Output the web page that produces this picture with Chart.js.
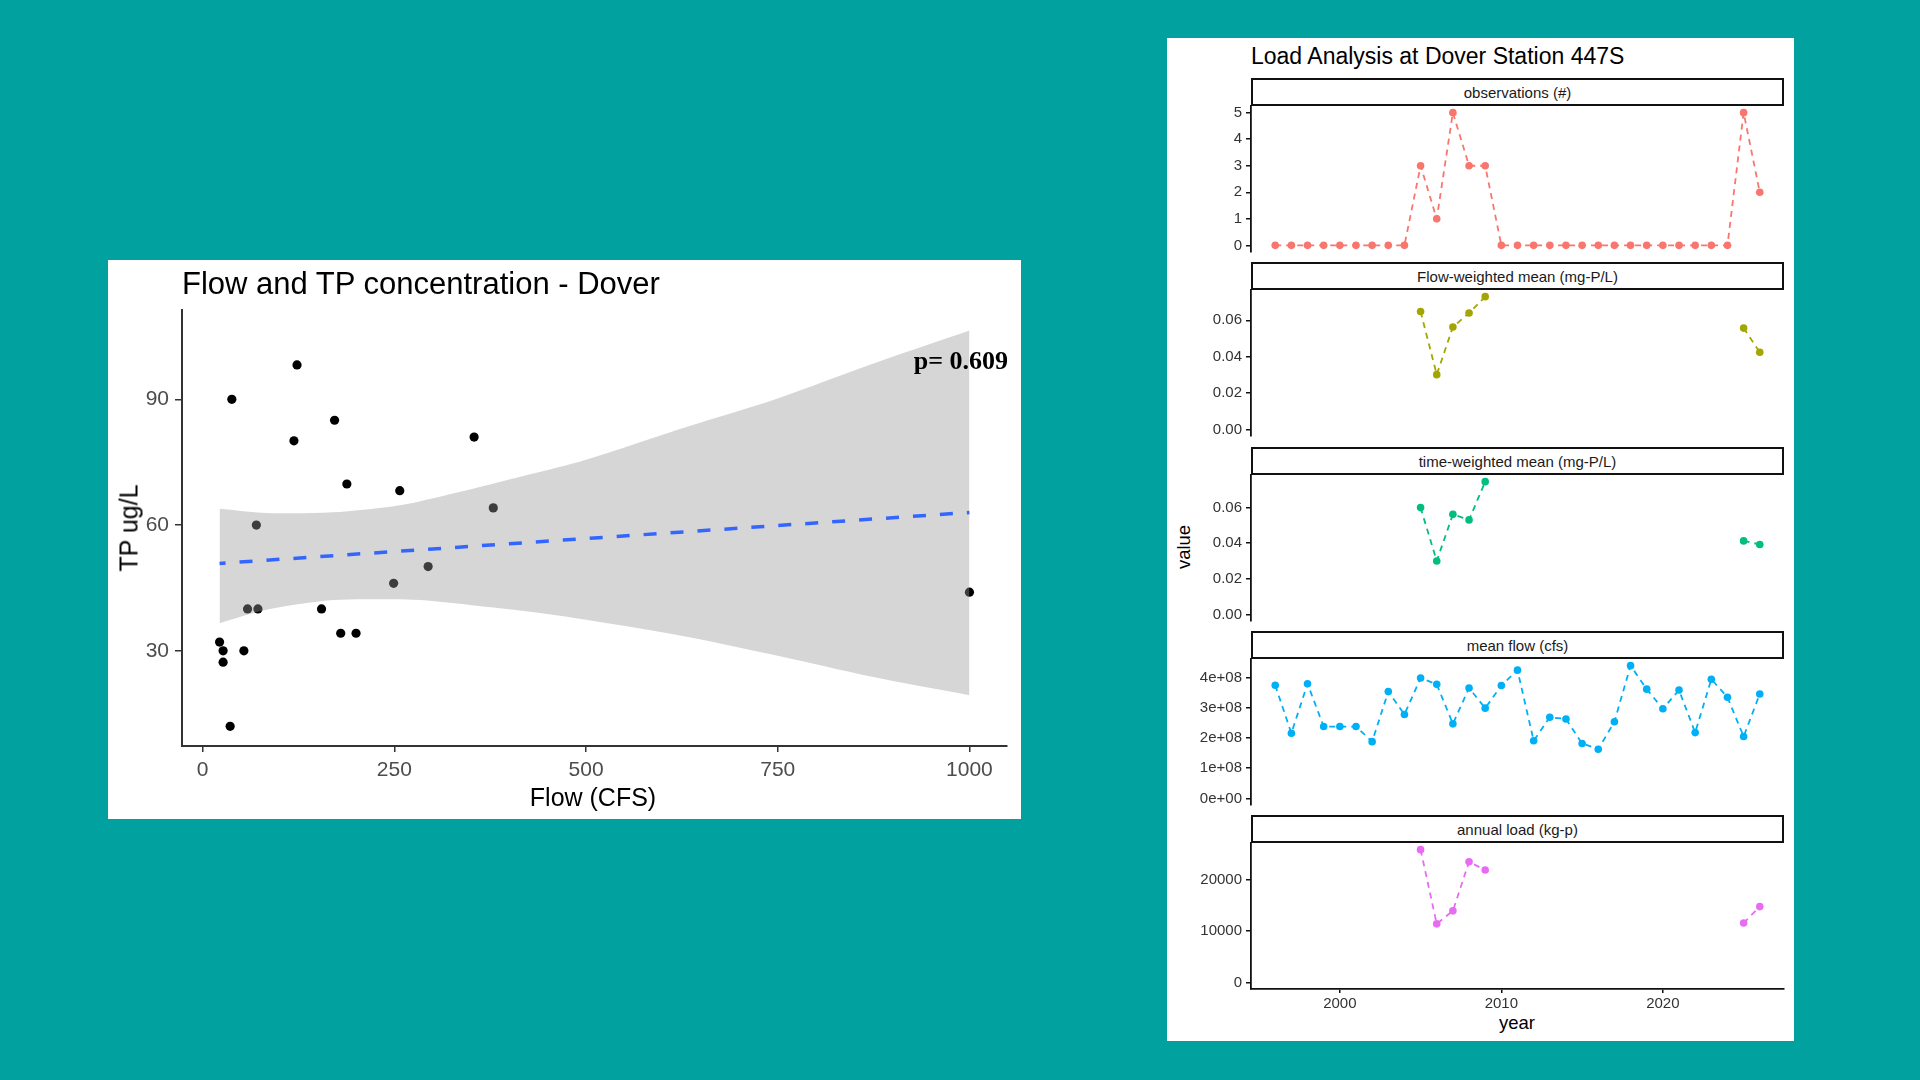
<!DOCTYPE html>
<html><head><meta charset="utf-8">
<script src="https://cdn.jsdelivr.net/npm/chart.js@4.4.1/dist/chart.umd.min.js"></script>
<style>
html,body{margin:0;padding:0;width:1920px;height:1080px;overflow:hidden;background:#00A19E;font-family:"Liberation Sans",Arial,sans-serif;}
.abs{position:absolute;white-space:nowrap;line-height:1;}
.white{position:absolute;background:#fff;}
.strip{position:absolute;box-sizing:border-box;border:2px solid #111;background:#fff;color:#1a1a1a;font-size:15px;display:flex;align-items:center;justify-content:center;}
canvas{position:absolute;}
</style></head><body>
<div class="white" style="left:108px;top:260px;width:913px;height:559px;"></div>
<div class="white" style="left:1167px;top:38px;width:627px;height:1003px;"></div>
<canvas id="left" width="913" height="559" style="left:108px;top:260px;"></canvas>
<div class="abs" style="left:182px;top:268px;font-size:31px;color:#000;">Flow and TP concentration - Dover</div>
<div class="abs" style="right:912px;top:348px;font-size:26px;font-weight:bold;font-family:'Liberation Serif','Times New Roman',serif;color:#000;">p= 0.609</div>
<div class="abs" style="left:129px;top:528px;font-size:25px;color:#000;transform:translate(-50%,-50%) rotate(-90deg);">TP ug/L</div>
<div class="abs" style="left:593px;top:785px;font-size:25px;color:#000;transform:translateX(-50%);">Flow (CFS)</div>
<div class="abs" style="left:1251px;top:45px;font-size:23px;color:#000;">Load Analysis at Dover Station 447S</div>
<div class="abs" style="left:1517px;top:1014px;font-size:18.5px;color:#000;transform:translateX(-50%);">year</div>
<div class="abs" style="left:1184px;top:547px;font-size:18.5px;color:#000;transform:translate(-50%,-50%) rotate(-90deg);">value</div>
<div id="right"></div>
<script>
// ---------- Left chart data ----------
const flowCFS = [38, 123, 119, 172, 354, 188, 257, 379, 70, 294, 249, 58.5, 72, 155, 180, 200, 22, 26.6, 53.7, 26.6, 35.8, 1000];
const tpUgL   = [90, 98.2, 80.1, 85, 81, 69.8, 68.2, 64.1, 60, 50.1, 46.1, 40, 40, 40, 34.2, 34.2, 32.1, 30, 30, 27.3, 12, 44];
const fitX = [22, 1000];
const fitY = [50.85, 63.0];
const bandX  = [22, 83, 170, 249, 284, 360, 427, 500, 633, 750, 873, 1000];
const bandLo = [36.6, 39.8, 42.1, 42.3, 42.1, 40.7, 39.3, 37.4, 33.3, 28.8, 23.8, 19.4];
const bandHi = [63.9, 62.9, 63.05, 64.5, 65.7, 69.0, 72.1, 75.6, 83.5, 90.2, 98.4, 106.4];
const flowTicks = [0, 250, 500, 750, 1000];
const flowTickLabels = ['0', '250', '500', '750', '1000'];
const tpTicks = [30, 60, 90];
const tpTickLabels = ['30', '60', '90'];

// ---------- Right facets data ----------
const years = [1996,1997,1998,1999,2000,2001,2002,2003,2004,2005,2006,2007,2008,2009,2010,2011,2012,2013,2014,2015,2016,2017,2018,2019,2020,2021,2022,2023,2024,2025,2026];
const observations = [0,0,0,0,0,0,0,0,0,3,1,5,3,3,0,0,0,0,0,0,0,0,0,0,0,0,0,0,0,5,2];
const flowWeighted = [null,null,null,null,null,null,null,null,null,0.0648,0.0301,0.0563,0.0640,0.0730,null,null,null,null,null,null,null,null,null,null,null,null,null,null,null,0.0557,0.0424];
const timeWeighted = [null,null,null,null,null,null,null,null,null,0.0600,0.0300,0.0562,0.0531,0.0746,null,null,null,null,null,null,null,null,null,null,null,null,null,null,null,0.0413,0.0393];
const meanFlow = [3.75e8,2.16e8,3.80e8,2.38e8,2.38e8,2.38e8,1.88e8,3.54e8,2.78e8,3.99e8,3.78e8,2.47e8,3.66e8,2.99e8,3.74e8,4.25e8,1.91e8,2.69e8,2.63e8,1.82e8,1.63e8,2.54e8,4.40e8,3.62e8,2.97e8,3.59e8,2.18e8,3.95e8,3.35e8,2.05e8,3.46e8];
const annualLoad = [null,null,null,null,null,null,null,null,null,25800,11370,13900,23440,21830,null,null,null,null,null,null,null,null,null,null,null,null,null,null,null,11530,14730];
const facetNames = ['observations (#)', 'Flow-weighted mean (mg-P/L)', 'time-weighted mean (mg-P/L)', 'mean flow (cfs)', 'annual load (kg-p)'];
const yearTicks = [2000, 2010, 2020];
const yearTickLabels = ['2000', '2010', '2020'];
const obsTicks = [0,1,2,3,4,5];
const obsTickLabels = ['0','1','2','3','4','5'];
const meanTicks = [0, 0.02, 0.04, 0.06];
const meanTickLabels = ['0.00','0.02','0.04','0.06'];
const flowAxisTicks = [0, 1e8, 2e8, 3e8, 4e8];
const flowAxisTickLabels = ['0e+00','1e+08','2e+08','3e+08','4e+08'];
const loadTicks = [0, 10000, 20000];
const loadTickLabels = ['0','10000','20000'];

Chart.defaults.font.family = '"Liberation Sans", Arial, sans-serif';
Chart.defaults.animation = false;

function labelFrom(ticks, labels) {
  return (v) => { const j = ticks.indexOf(v); return j >= 0 ? labels[j] : ''; };
}

// ---------- Left chart ----------
new Chart(document.getElementById('left'), {
  type: 'scatter',
  data: { datasets: [
    { data: fitX.map((x,i)=>({x:x,y:fitY[i]})), showLine:true, borderColor:'#3366FF', borderWidth:3.5, borderDash:[13,14], borderDashOffset:7, pointRadius:0, order:0 },
    { data: bandX.map((x,i)=>({x:x,y:bandLo[i]})), showLine:true, borderColor:'rgba(0,0,0,0)', borderWidth:1, pointRadius:0, fill:false, tension:0.3, order:1 },
    { data: bandX.map((x,i)=>({x:x,y:bandHi[i]})), showLine:true, borderColor:'rgba(0,0,0,0)', borderWidth:1, pointRadius:0, fill:'-1', backgroundColor:'rgba(153,153,153,0.4)', tension:0.3, order:1 },
    { data: flowCFS.map((x,i)=>({x:x,y:tpUgL[i]})), pointRadius:4.6, pointBackgroundColor:'#000', pointBorderWidth:0, backgroundColor:'#000', order:2 }
  ]},
  options: {
    responsive:false, animation:false,
    layout:{ padding:{left:0, right:14, top:50, bottom:0}, autoPadding:false },
    plugins:{ legend:{display:false}, tooltip:{enabled:false} },
    scales:{
      x:{ type:'linear', min:-27, max:1049,
          afterBuildTicks:(a)=>{ a.ticks = flowTicks.map(v=>({value:v})); },
          afterFit:(a)=>{ a.height = 73; a.paddingLeft = 0; a.paddingRight = 0; },
          ticks:{ font:{size:21}, color:'#4D4D4D', padding:6, maxRotation:0, autoSkip:false, callback: labelFrom(flowTicks, flowTickLabels) },
          grid:{ drawOnChartArea:false, drawTicks:true, tickLength:6, color:'#333', lineWidth:1.5 },
          border:{ display:true, color:'#333', width:2 } },
      y:{ type:'linear', min:7.3, max:111.3,
          afterBuildTicks:(a)=>{ a.ticks = tpTicks.map(v=>({value:v})); },
          afterFit:(a)=>{ a.width = 74; a.paddingTop = 0; a.paddingBottom = 0; },
          ticks:{ font:{size:21}, color:'#4D4D4D', padding:6, callback: labelFrom(tpTicks, tpTickLabels) },
          grid:{ drawOnChartArea:false, drawTicks:true, tickLength:7, color:'#333', lineWidth:1.5 },
          border:{ display:true, color:'#333', width:2 } }
    }
  }
});

// ---------- Right facets ----------
const stripTops = [78, 262, 447, 631, 815];
const stripH = 28, panelH = 146;
const panelLeft = 1251, panelRight = 1784, canvasLeft = 1170;
const facetSeries = [observations, flowWeighted, timeWeighted, meanFlow, annualLoad];
const facetColors = ['#F8766D', '#A3A500', '#00BF7D', '#00B0F6', '#E76BF3'];
const facetTicks = [obsTicks, meanTicks, meanTicks, flowAxisTicks, loadTicks];
const facetTickLabels = [obsTickLabels, meanTickLabels, meanTickLabels, flowAxisTickLabels, loadTickLabels];
const host = document.getElementById('right');

facetSeries.forEach((vals, k) => {
  const st = stripTops[k];
  const strip = document.createElement('div');
  strip.className = 'strip';
  strip.style.left = panelLeft + 'px';
  strip.style.top = st + 'px';
  strip.style.width = (panelRight - panelLeft) + 'px';
  strip.style.height = stripH + 'px';
  strip.textContent = facetNames[k];
  host.appendChild(strip);

  const last = k === facetSeries.length - 1;
  const padT = 6, padR = 8, padB = last ? 0 : 6, xH = last ? 30 : 0;
  const cv = document.createElement('canvas');
  const w = panelRight - canvasLeft + padR;
  const h = padT + panelH + padB + xH;
  cv.width = w; cv.height = h;
  cv.style.left = canvasLeft + 'px';
  cv.style.top = (st + stripH - padT) + 'px';
  host.appendChild(cv);

  const nums = vals.filter(v => v !== null);
  const lo = Math.min(0, Math.min(...nums)), hi = Math.max(...nums);
  const pad = (hi - lo) * 0.05;
  const ticks = facetTicks[k], labels = facetTickLabels[k];

  new Chart(cv, {
    type: 'scatter',
    data: { datasets: [{
      data: years.map((yr, i) => ({x: yr, y: vals[i]})),
      showLine: true, spanGaps: false,
      borderColor: facetColors[k], borderWidth: 1.8, borderDash: [6, 5],
      pointRadius: 3.8, pointBackgroundColor: facetColors[k], pointBorderWidth: 0,
      backgroundColor: facetColors[k], clip: false
    }]},
    options: {
      responsive:false, animation:false,
      layout:{ padding:{left:0, right:padR, top:padT, bottom:padB}, autoPadding:false },
      plugins:{ legend:{display:false}, tooltip:{enabled:false} },
      scales:{
        x:{ type:'linear', min:1994.5, max:2027.5, display: last,
            afterBuildTicks:(a)=>{ a.ticks = yearTicks.map(v=>({value:v})); },
            afterFit:(a)=>{ a.height = xH; a.paddingLeft = 0; a.paddingRight = 0; },
            ticks:{ font:{size:15}, color:'#333', padding:2, maxRotation:0, autoSkip:false, callback: labelFrom(yearTicks, yearTickLabels) },
            grid:{ drawOnChartArea:false, drawTicks:true, tickLength:4, color:'#111', lineWidth:1.5 },
            border:{ display:true, color:'#111', width:1.8 } },
        y:{ type:'linear', min: lo - pad, max: hi + pad,
            afterBuildTicks:(a)=>{ a.ticks = ticks.map(v=>({value:v})); },
            afterFit:(a)=>{ a.width = panelLeft - canvasLeft; a.paddingTop = 0; a.paddingBottom = 0; },
            ticks:{ font:{size:15}, color:'#333', padding:4, autoSkip:false, callback: labelFrom(ticks, labels) },
            grid:{ drawOnChartArea:false, drawTicks:true, tickLength:5, color:'#111', lineWidth:1.5 },
            border:{ display:true, color:'#111', width:1.8 } }
      }
    }
  });
});
</script>
</body></html>
